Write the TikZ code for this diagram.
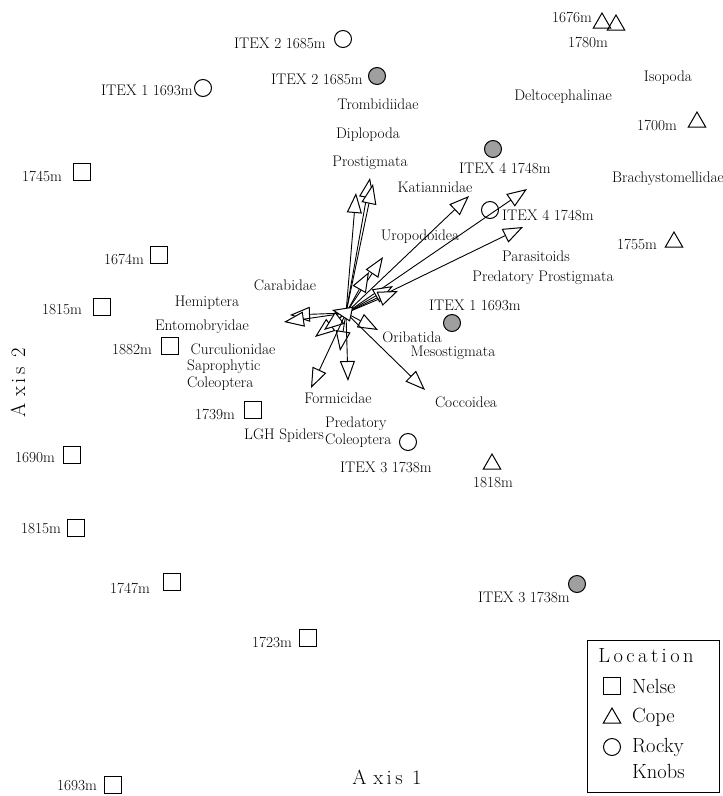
\documentclass[tikz,border=0pt]{standalone}
\usetikzlibrary{arrows.meta,shapes.geometric}
\begin{document}
\begin{tikzpicture}[x=1pt,y=-1pt,
  font=\fontsize{15.3}{17}\selectfont,
  lbl/.style={inner sep=0pt},
  sq/.style={draw, rectangle, minimum size=17pt, inner sep=0pt, line width=1pt},
  tri/.style={draw, regular polygon, regular polygon sides=3, minimum size=20pt, inner sep=0pt, line width=1pt},
  oc/.style={draw, circle, minimum size=17pt, inner sep=0pt, line width=1pt},
  gc/.style={draw, circle, fill=gray!75, minimum size=17pt, inner sep=0pt, line width=1pt},
  vec/.style={-{Triangle[fill=white,length=20pt,width=15pt,line width=1pt]}, line width=0.9pt},
  legfont/.style={font=\fontsize{20.5}{23}\selectfont}]
\useasboundingbox (0,0) rectangle (723,796);

% ---- site markers ----
\node[tri] (t1676) at (602,23) {};
\node[tri] (t1780) at (616,25) {};
\node[lbl] (l1676) at (572,17) {1676m};
\node[lbl] (l1780) at (588,42) {1780m};
\node[oc] (c2a) at (343,39) {};
\node[lbl] (lc2a) at (280,43) {ITEX 2 1685m};
\node[gc] (g2a) at (377,76) {};
\node[lbl] (lg2a) at (317,79) {ITEX 2 1685m};
\node[oc] (c1a) at (203,88) {};
\node[lbl] (lc1a) at (147,90) {ITEX 1 1693m};
\node[tri] (t1700) at (697,122) {};
\node[lbl] (l1700) at (657,125) {1700m};
\node[gc] (g4a) at (493,149) {};
\node[lbl] (lg4a) at (505,168) {ITEX 4 1748m};
\node[sq] (s1745) at (82,172) {};
\node[lbl] (l1745) at (42,176) {1745m};
\node[oc] (c4a) at (490,210) {};
\node[lbl] (lc4a) at (548,215) {ITEX 4 1748m};
\node[tri] (t1755) at (674,242) {};
\node[lbl] (l1755) at (637,244) {1755m};
\node[sq] (s1674) at (159,255) {};
\node[lbl] (l1674) at (124,259) {1674m};
\node[sq] (s1815a) at (102,307) {};
\node[lbl] (l1815a) at (62,310) {1815m};
\node[gc] (g1a) at (452,323) {};
\node[lbl] (lg1a) at (475,305) {ITEX 1 1693m};
\node[sq] (s1882) at (170,346) {};
\node[lbl] (l1882) at (132,350) {1882m};
\node[sq] (s1739) at (253,410) {};
\node[lbl] (l1739) at (215,414) {1739m};
\node[oc] (c3a) at (408,442) {};
\node[lbl] (lc3a) at (386,467) {ITEX 3 1738m};
\node[tri] (t1818) at (492,464) {};
\node[lbl] (l1818) at (493,483) {1818m};
\node[sq] (s1690) at (72,455) {};
\node[lbl] (l1690) at (35,458) {1690m};
\node[sq] (s1815b) at (76,528) {};
\node[lbl] (l1815b) at (41,529) {1815m};
\node[sq] (s1747) at (172,582) {};
\node[lbl] (l1747) at (130,588) {1747m};
\node[gc] (g3a) at (577,584) {};
\node[lbl] (lg3a) at (524,597) {ITEX 3 1738m};
\node[sq] (s1723) at (308,638) {};
\node[lbl] (l1723) at (272,642) {1723m};
\node[sq] (s1693) at (113,785) {};
\node[lbl] (l1693) at (77,786) {1693m};

% ---- taxon labels ----
\node[lbl] (isopoda) at (668,78) {Isopoda};
\node[lbl] (delto) at (563,97) {Deltocephalinae};
\node[lbl] (trombi) at (378,104) {Trombidiidae};
\node[lbl] (diplo) at (368,135) {Diplopoda};
\node[lbl] (prostig) at (370,163) {Prostigmata};
\node[lbl] (katian) at (435,187) {Katiannidae};
\node[lbl, anchor=east] (brachy) at (724,179) {Brachystomellidae};
\node[lbl] (uropo) at (420,237) {Uropodoidea};
\node[lbl] (parasit) at (536,256) {Parasitoids};
\node[lbl] (predpro) at (543,278) {Predatory Prostigmata};
\node[lbl] (carab) at (285,285) {Carabidae};
\node[lbl] (hemip) at (207,303) {Hemiptera};
\node[lbl] (entomo) at (202,327) {Entomobryidae};
\node[lbl] (orib) at (412,337) {Oribatida};
\node[lbl] (curcu) at (233,349) {Curculionidae};
\node[lbl] (meso) at (453,353) {Mesostigmata};
\node[lbl, anchor=west] (sapro) at (187,367) {Saprophytic};
\node[lbl, anchor=west] (saproc) at (187,384) {Coleoptera};
\node[lbl] (formic) at (338,398) {Formicidae};
\node[lbl] (cocco) at (466,402) {Coccoidea};
\node[lbl, anchor=west] (predc) at (325,424) {Predatory};
\node[lbl, anchor=west] (predcc) at (325,441) {Coleoptera};
\node[lbl] (lgh) at (284,436) {LGH Spiders};

% ---- axes titles ----
\node[lbl, legfont, rotate=90] (ax2) at (18,383) {A\,\,x\,i\,s\ \,2};
\node[lbl, legfont] (ax1) at (387,777) {A\,\,x\,i\,s\ \,1};

% ---- vectors ----
\coordinate (o) at (346,313);
\coordinate (v1) at (370,178);
\coordinate (v2) at (373,184);
\coordinate (v3) at (356,193);
\coordinate (v4) at (469,196);
\coordinate (v5) at (527,189);
\coordinate (v6) at (523,227);
\coordinate (v7) at (383,257);
\coordinate (v8) at (369,272);
\coordinate (v9) at (393,286);
\coordinate (v10) at (398,291);
\coordinate (v11) at (290,315);
\coordinate (v12) at (284,322);
\coordinate (v13) at (315,337);
\coordinate (v14) at (324,330);
\coordinate (v15) at (378,330);
\coordinate (v16) at (340,351);
\coordinate (v17) at (348,381);
\coordinate (v18) at (311,388);
\coordinate (v19) at (425,390);
\coordinate (v20) at (332,310);
\foreach \v in {v1,v2,v3,v4,v5,v6,v7,v8,v9,v10,v11,v12,v13,v14,v15,v16,v17,v18,v19,v20}
  \draw[vec] (o) -- (\v);

% ---- legend ----
\node[draw, line width=1pt, minimum width=132pt, minimum height=152pt, inner sep=0pt] (legbox) at (653,716) {};
\node[lbl, legfont] (legt) at (646,656) {L\,o\,c\,a\,t\,i\,o\,n};
\node[sq] (legsq) at (612,686) {};
\node[lbl, legfont, anchor=west] (legn) at (632,686) {Nelse};
\node[tri] (legtri) at (612,718) {};
\node[lbl, legfont, anchor=west] (legc) at (632,717) {Cope};
\node[oc] (legoc) at (612,747) {};
\node[lbl, legfont, anchor=west] (legr) at (632,747) {Rocky};
\node[lbl, legfont, anchor=west] (legk) at (632,771) {Knobs};
\end{tikzpicture}
\end{document}
